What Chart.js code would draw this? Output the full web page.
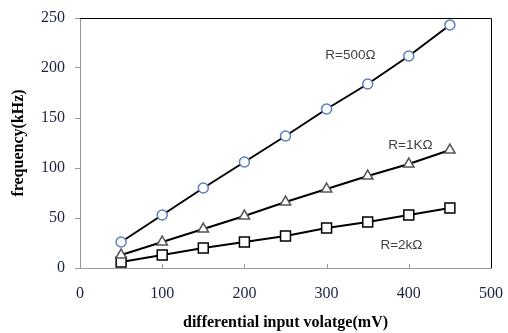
<!DOCTYPE html>
<html lang="en">
<head>
    <meta charset="UTF-8">
    <title>Frequency vs input voltage</title>
    <script src="https://cdn.jsdelivr.net/npm/chart.js@4.4.1/dist/chart.umd.min.js"></script>
    <style>
        body { margin: 0; background: #fff; }
    </style>
</head>
<body>
    <div style="width: 508px; height: 333px;">
        <canvas id="myChart" width="508" height="333"></canvas>
    </div>

    <script>
        // input voltage (mV)
        const voltage = [50, 100, 150, 200, 250, 300, 350, 400, 450];
        // frequency (kHz) per load resistor
        const r500 = [26, 53, 80, 106, 132, 159, 184, 212, 243];
        const r1k = [13, 26, 39, 52, 66, 79, 92, 104, 118];
        const r2k = [6, 13, 20, 26, 32, 40, 46, 53, 60];
        const seriesLabels = ['R=500\u03A9', 'R=1K\u03A9', 'R=2k\u03A9'];
        // where each label sits, in data units (x mV, y kHz)
        const labelX = [329, 402, 391];
        const labelY = [213, 123, 23];

        function toPoints(ys) {
            return voltage.map((v, i) => ({ x: v, y: ys[i] }));
        }

        const frame = {
            id: 'frame',
            afterDraw(chart) {
                const { ctx, chartArea: a, scales } = chart;
                ctx.save();
                // top and right border
                ctx.strokeStyle = '#000';
                ctx.lineWidth = 1;
                ctx.beginPath();
                ctx.moveTo(a.left, a.top + 0.5);
                ctx.lineTo(a.right + 0.5, a.top + 0.5);
                ctx.lineTo(a.right + 0.5, a.bottom);
                ctx.stroke();
                // small inward ticks on the x axis
                ctx.strokeStyle = '#999';
                [100, 200, 300, 400].forEach(v => {
                    const px = Math.round(scales.x.getPixelForValue(v)) + 0.5;
                    ctx.beginPath();
                    ctx.moveTo(px, a.bottom);
                    ctx.lineTo(px, a.bottom - 4);
                    ctx.stroke();
                });
                // series labels
                ctx.fillStyle = '#404040';
                ctx.font = '13.5px "Liberation Sans", Arial, sans-serif';
                ctx.textAlign = 'center';
                ctx.textBaseline = 'middle';
                seriesLabels.forEach((t, i) => {
                    ctx.fillText(t, scales.x.getPixelForValue(labelX[i]), scales.y.getPixelForValue(labelY[i]));
                });
                ctx.restore();
            }
        };

        const ctx = document.getElementById('myChart').getContext('2d');
        const serif = '"Liberation Serif", "Times New Roman", serif';

        new Chart(ctx, {
            type: 'line',
            data: {
                datasets: [
                    {
                        label: seriesLabels[0],
                        data: toPoints(r500),
                        borderColor: '#000',
                        borderWidth: 2,
                        pointStyle: 'circle',
                        pointRadius: 5,
                        pointBorderWidth: 1.5,
                        pointBorderColor: '#5b7fbf',
                        pointBackgroundColor: '#fff'
                    },
                    {
                        label: seriesLabels[1],
                        data: toPoints(r1k),
                        borderColor: '#000',
                        borderWidth: 2,
                        pointStyle: 'triangle',
                        pointRadius: 6,
                        pointBorderWidth: 1.5,
                        pointBorderColor: '#555',
                        pointBackgroundColor: '#fff'
                    },
                    {
                        label: seriesLabels[2],
                        data: toPoints(r2k),
                        borderColor: '#000',
                        borderWidth: 2,
                        pointStyle: 'rect',
                        pointRadius: 7,
                        pointBorderWidth: 1.5,
                        pointBorderColor: '#000',
                        pointBackgroundColor: '#fff'
                    }
                ]
            },
            options: {
                responsive: false,
                animation: false,
                layout: { padding: { top: 18, right: 17, left: 0, bottom: 0 } },
                plugins: {
                    legend: { display: false },
                    tooltip: { enabled: false }
                },
                scales: {
                    x: {
                        type: 'linear',
                        min: 0,
                        max: 500,
                        afterFit(s) {
                            s.height = 65;
                            s.paddingLeft = 0;
                            s.paddingRight = 0;
                        },
                        ticks: {
                            stepSize: 100,
                            color: '#1c2340',
                            padding: 16,
                            font: { family: serif, size: 16 }
                        },
                        grid: { drawOnChartArea: false, drawTicks: false },
                        border: { color: '#999', width: 1 },
                        title: {
                            display: true,
                            text: 'differential input volatge(mV)',
                            color: '#000',
                            padding: { top: 0, bottom: 1 },
                            font: { family: serif, size: 16, weight: 'bold' }
                        }
                    },
                    y: {
                        min: 0,
                        max: 250,
                        afterFit(s) {
                            s.width = 80;
                            s.paddingTop = 0;
                            s.paddingBottom = 0;
                        },
                        ticks: {
                            stepSize: 50,
                            color: '#1c2340',
                            padding: 10,
                            font: { family: serif, size: 16 }
                        },
                        grid: { drawOnChartArea: false, tickLength: 5, color: '#999' },
                        border: { color: '#999', width: 1 },
                        title: {
                            display: true,
                            text: 'frequency(kHz)',
                            color: '#000',
                            padding: { top: 9, bottom: 0 },
                            font: { family: serif, size: 16, weight: 'bold' }
                        }
                    }
                }
            },
            plugins: [frame]
        });
    </script>
</body>
</html>
